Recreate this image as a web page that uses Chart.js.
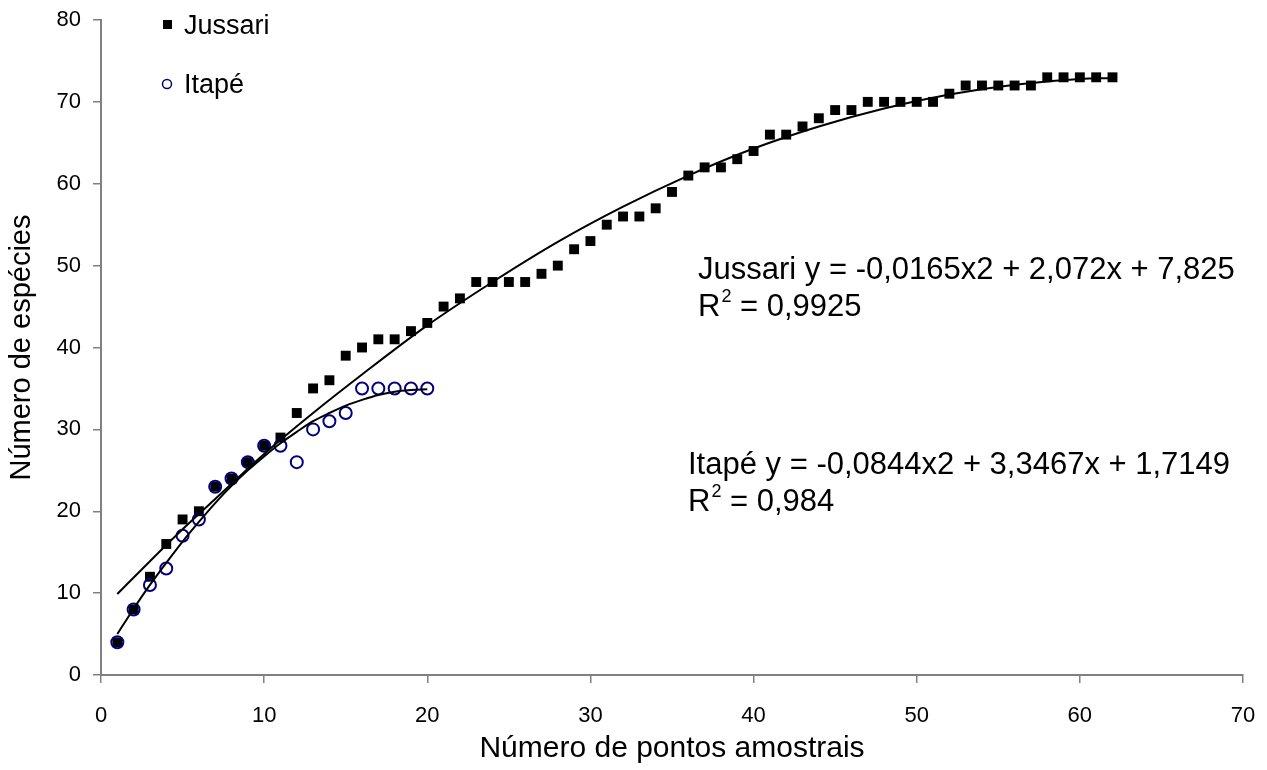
<!DOCTYPE html>
<html>
<head>
<meta charset="utf-8">
<script src="https://cdn.jsdelivr.net/npm/chart.js@4.4.1/dist/chart.umd.min.js"></script>
<style>
  html, body { margin: 0; padding: 0; background: #fff; }
</style>
</head>
<body>
<canvas id="myChart" width="1267" height="770"></canvas>
<script>
// species counts per sample point (x = 1, 2, 3, ...)
const jussari = [4, 8, 12, 16, 19, 20, 23, 24, 26, 28,
  29, 32, 35, 36, 39, 40, 41, 41, 42, 43,
  45, 46, 48, 48, 48, 48, 49, 50, 52, 53,
  55, 56, 56, 57, 59, 61, 62, 62, 63, 64,
  66, 66, 67, 68, 69, 69, 70, 70, 70, 70,
  70, 71, 72, 72, 72, 72, 72, 73, 73, 73,
  73, 73];
const itape = [4, 8, 11, 13, 17, 19, 23, 24, 26, 28,
  28, 26, 30, 31, 32, 35, 35, 35, 35, 35];

// trend lines
const jussariTrendX = [1, 3, 5, 7, 10, 13, 16, 20, 24, 28, 32, 36, 40, 44, 48, 52, 56, 60, 62];
const jussariTrendY = [9.9, 13.9, 17.8, 21.5, 27.0, 32.0, 36.7, 42.7, 48.0, 52.9, 57.2, 61.0, 64.3, 67.0, 69.2, 70.9, 72.1, 72.8, 72.9];
const itapeTrendX = [1, 2, 3, 4, 5, 6, 7, 8, 9, 10, 11, 12, 13, 14, 15, 16, 17, 18, 19, 20];
const itapeTrendY = [5.0, 8.1, 11.0, 13.7, 16.3, 18.7, 21.0, 23.1, 25.0, 26.7, 28.3, 29.7, 31.0, 32.0, 32.9, 33.6, 34.2, 34.6, 34.8, 34.9];

const xTicks = [0, 10, 20, 30, 40, 50, 60, 70];
const yTicks = [0, 10, 20, 30, 40, 50, 60, 70, 80];

const legendLabels = ['Jussari', 'Itapé'];
const equations = [
  { eq: 'Jussari y = -0,0165x2 + 2,072x + 7,825', r2: ' = 0,9925' },
  { eq: 'Itapé y = -0,0844x2 + 3,3467x + 1,7149', r2: ' = 0,984' }
];

const FONT = '"Liberation Sans", Arial, sans-serif';
const NAVY = '#000080';
const AXIS = '#808080';

const toPoints = (xs, ys) => xs.map((x, i) => ({ x, y: ys[i] }));
const seriesPoints = ys => ys.map((y, i) => ({ x: i + 1, y }));

// legend + equation texts
const textPlugin = {
  id: 'texts',
  afterDraw(chart) {
    const ctx = chart.ctx;
    ctx.save();
    ctx.fillStyle = '#000';
    ctx.textBaseline = 'alphabetic';
    ctx.textAlign = 'left';

    // legend
    ctx.fillRect(163, 20, 9, 9);
    ctx.font = '27px ' + FONT;
    ctx.fillText(legendLabels[0], 184, 34);
    ctx.beginPath();
    ctx.strokeStyle = NAVY;
    ctx.lineWidth = 1.5;
    ctx.arc(167, 84, 4.5, 0, Math.PI * 2);
    ctx.stroke();
    ctx.fillText(legendLabels[1], 184, 93);

    // equations
    const drawEq = (item, x, y) => {
      ctx.font = '31px ' + FONT;
      ctx.fillText(item.eq, x, y);
      const y2 = y + 37;
      ctx.fillText('R', x, y2);
      const rw = ctx.measureText('R').width;
      ctx.font = '18px ' + FONT;
      ctx.fillText('2', x + rw + 1, y2 - 14);
      const sw = ctx.measureText('2').width;
      ctx.font = '31px ' + FONT;
      ctx.fillText(item.r2, x + rw + sw + 1, y2);
    };
    drawEq(equations[0], 698, 279);
    drawEq(equations[1], 688, 474);
    ctx.restore();
  }
};

new Chart(document.getElementById('myChart'), {
  type: 'scatter',
  data: {
    datasets: [
      {
        label: 'Jussari trend',
        data: toPoints(jussariTrendX, jussariTrendY),
        showLine: true,
        borderColor: '#000',
        borderWidth: 2,
        pointRadius: 0,
        cubicInterpolationMode: 'monotone',
        order: 0
      },
      {
        label: 'Itapé trend',
        data: toPoints(itapeTrendX, itapeTrendY),
        showLine: true,
        borderColor: '#000',
        borderWidth: 2,
        pointRadius: 0,
        cubicInterpolationMode: 'monotone',
        order: 0
      },
      {
        label: legendLabels[1],
        data: seriesPoints(itape),
        pointStyle: 'circle',
        pointRadius: 6,
        borderColor: NAVY,
        borderWidth: 2,
        backgroundColor: 'rgba(0,0,0,0)',
        order: 1
      },
      {
        label: legendLabels[0],
        data: seriesPoints(jussari),
        pointStyle: 'rect',
        pointRadius: 7,
        borderWidth: 0,
        backgroundColor: '#000',
        order: 2
      }
    ]
  },
  options: {
    responsive: false,
    animation: false,
    layout: { padding: { top: 20, right: 24, left: 0, bottom: 0 } },
    plugins: {
      legend: { display: false },
      tooltip: { enabled: false }
    },
    scales: {
      x: {
        type: 'linear',
        min: 0,
        max: 70,
        afterBuildTicks: axis => { axis.ticks = xTicks.map(v => ({ value: v })); },
        afterFit: axis => {
          axis.height = 95;
          axis.paddingLeft = 0;
          axis.paddingRight = 0;
        },
        grid: { drawOnChartArea: false, tickLength: 8, color: AXIS, lineWidth: 1.5 },
        border: { color: AXIS, width: 2 },
        ticks: { color: '#000', padding: 20, font: { family: FONT, size: 22 } },
        title: {
          display: true,
          text: 'Número de pontos amostrais',
          color: '#000',
          font: { family: FONT, size: 30 },
          padding: { top: 0, bottom: 3 }
        }
      },
      y: {
        type: 'linear',
        min: 0,
        max: 80,
        afterBuildTicks: axis => { axis.ticks = yTicks.map(v => ({ value: v })); },
        afterFit: axis => {
          axis.width = 101;
          axis.paddingTop = 0;
          axis.paddingBottom = 0;
        },
        grid: { drawOnChartArea: false, tickLength: 8, color: AXIS, lineWidth: 1.5 },
        border: { color: AXIS, width: 2 },
        ticks: { color: '#000', padding: 12, font: { family: FONT, size: 22 } },
        title: {
          display: true,
          text: 'Número de espécies',
          color: '#000',
          font: { family: FONT, size: 29 },
          padding: { top: 5, bottom: 0 }
        }
      }
    }
  },
  plugins: [textPlugin]
});
</script>
</body>
</html>
